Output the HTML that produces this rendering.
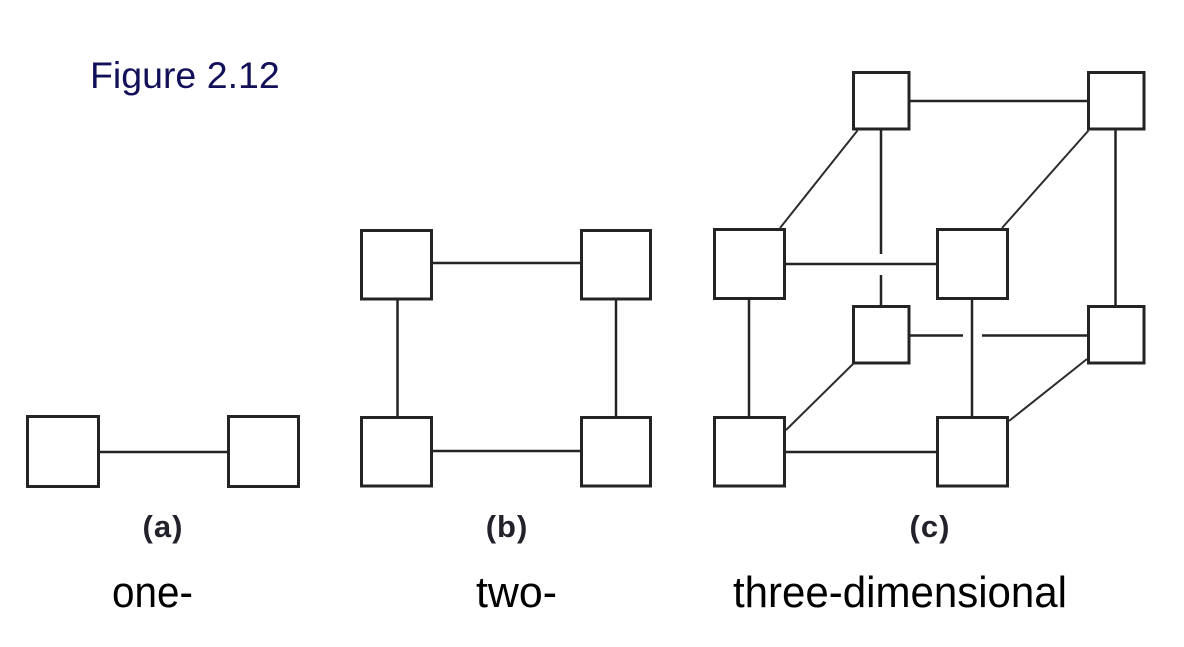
<!DOCTYPE html>
<html>
<head>
<meta charset="utf-8">
<style>
  html, body { margin: 0; padding: 0; background: #ffffff; }
  body { width: 1184px; height: 647px; overflow: hidden; }
  svg { display: block; }
</style>
</head>
<body>
<svg width="1184" height="647" viewBox="0 0 1184 647" xmlns="http://www.w3.org/2000/svg">
  <rect x="0" y="0" width="1184" height="647" fill="#ffffff"/>

  <!-- Title -->
  <text x="90" y="88" font-family="Liberation Sans, Arial, sans-serif" font-size="37.5" fill="#13105a">Figure 2.12</text>

  <g fill="#ffffff" stroke="#242424" stroke-width="3">
    <!-- (a) -->
    <rect x="27.5" y="416.5" width="71" height="70"/>
    <rect x="228.5" y="416.5" width="70" height="70"/>
    <!-- (b) -->
    <rect x="361.5" y="230.5" width="70" height="68.5"/>
    <rect x="581.5" y="230.5" width="69" height="68.5"/>
    <rect x="361.5" y="417.5" width="70" height="68.5"/>
    <rect x="581.5" y="417.5" width="69" height="68.5"/>
    <!-- (c) front -->
    <rect x="714.5" y="229.5" width="70" height="69"/>
    <rect x="937.5" y="229.5" width="70" height="69"/>
    <rect x="714.5" y="417.5" width="70" height="68.5"/>
    <rect x="937.5" y="417.5" width="70" height="68.5"/>
    <!-- (c) back -->
    <rect x="853.5" y="72.5" width="55.5" height="56.5"/>
    <rect x="1088.5" y="72.5" width="55.5" height="56.5"/>
    <rect x="853.5" y="306.5" width="55.5" height="56.5"/>
    <rect x="1088.5" y="306.5" width="55.5" height="56.5"/>
  </g>

  <g stroke="#242424" stroke-width="2.5" fill="none">
    <!-- (a) -->
    <line x1="100" y1="452" x2="228" y2="452"/>
    <!-- (b) -->
    <line x1="433" y1="263" x2="581" y2="263"/>
    <line x1="433" y1="451" x2="581" y2="451"/>
    <line x1="397.5" y1="300" x2="397.5" y2="417"/>
    <line x1="616" y1="300" x2="616" y2="417"/>
    <!-- (c) -->
    <line x1="910" y1="101" x2="1088" y2="101"/>
    <line x1="881" y1="130" x2="881" y2="254"/>
    <line x1="881" y1="275" x2="881" y2="306"/>
    <line x1="1115.5" y1="130" x2="1115.5" y2="306"/>
    <line x1="786" y1="264" x2="937" y2="264"/>
    <line x1="910" y1="335.5" x2="963" y2="335.5"/>
    <line x1="982" y1="335.5" x2="1088" y2="335.5"/>
    <line x1="749" y1="300" x2="749" y2="417"/>
    <line x1="972" y1="300" x2="972" y2="417"/>
    <line x1="786" y1="452" x2="937" y2="452"/>
  </g>
  <g stroke="#2c2c2c" stroke-width="2" fill="none">
    <line x1="857.5" y1="130.5" x2="780" y2="228"/>
    <line x1="1088.5" y1="130.5" x2="1002" y2="228"/>
    <line x1="853" y1="364" x2="786" y2="430"/>
    <line x1="1087" y1="359" x2="1009" y2="421"/>
  </g>

  <!-- sub labels -->
  <g font-family="Liberation Sans, Arial, sans-serif" font-weight="bold" font-size="31" fill="#22222c" text-anchor="middle" letter-spacing="1">
    <text x="163" y="537">(a)</text>
    <text x="507" y="537">(b)</text>
    <text x="930" y="537">(c)</text>
  </g>

  <!-- bottom captions -->
  <g font-family="Liberation Sans, Arial, sans-serif" font-size="44" fill="#000000">
    <text x="112" y="607" textLength="81" lengthAdjust="spacingAndGlyphs">one-</text>
    <text x="476" y="607" textLength="81" lengthAdjust="spacingAndGlyphs">two-</text>
    <text x="733" y="607" textLength="334" lengthAdjust="spacingAndGlyphs">three-dimensional</text>
  </g>
</svg>
</body>
</html>
